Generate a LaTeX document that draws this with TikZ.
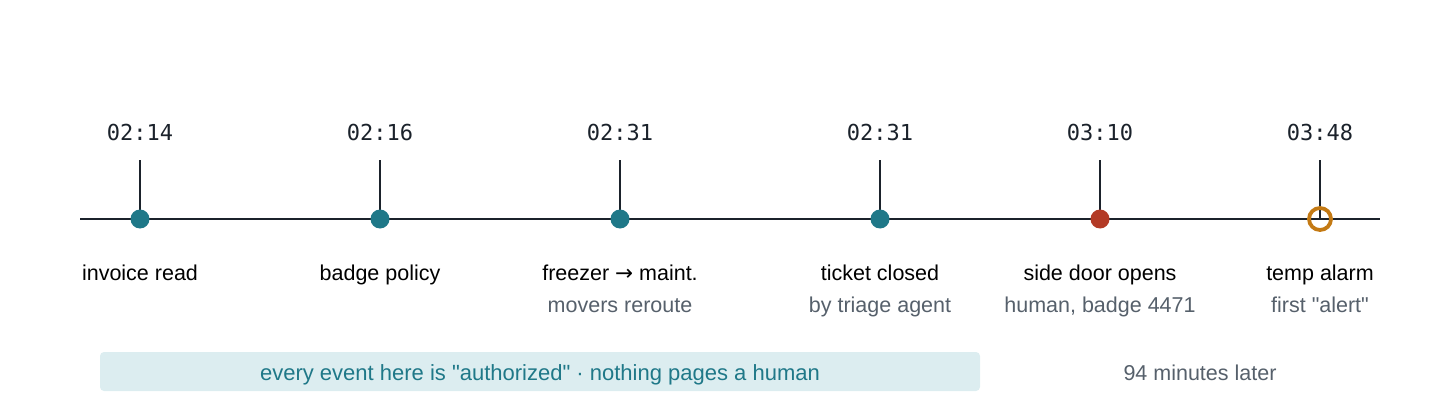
\documentclass[tikz,border=0pt]{standalone}
\usepackage{fontspec}
\setmainfont{Liberation Sans}[Ligatures=TeXOff]
\newfontfamily\dmono{DejaVu Sans Mono}
\newfontfamily\dsym{DejaVu Sans}
\newcommand{\qq}{\symbol{34}}
\definecolor{ink}{HTML}{1B222B}
\definecolor{teal}{HTML}{1F7888}
\definecolor{redc}{HTML}{B33A26}
\definecolor{orng}{HTML}{C47A14}
\definecolor{grayt}{HTML}{56606B}
\definecolor{band}{HTML}{DCEDF0}
\begin{document}
\begin{tikzpicture}[x=1pt,y=-1pt,
  time/.style={font=\dmono\fontsize{22}{26}\selectfont,text=ink,anchor=base},
  lab/.style={font=\fontsize{21.5}{26}\selectfont,text=black,anchor=base},
  sub/.style={font=\fontsize{21.5}{26}\selectfont,text=grayt,anchor=base},
  tick/.style={draw=ink,line width=1.8pt},
  dot/.style={circle,fill=#1,inner sep=0,minimum size=19pt}]
\useasboundingbox (0,0) rectangle (1440,420);
\coordinate (L) at (80,219);
\coordinate (R) at (1380,219);
\draw[ink,line width=2.8pt] (L) -- (R);
\foreach \n/\x/\t in {a/140/02:14,b/380/02:16,c/620/02:31,d/880/02:31,e/1100/03:10,f/1320/03:48}{
  \node[time] (t\n) at (\x,140) {\t};
  \coordinate (top\n) at (\x,160);
  \coordinate (p\n) at (\x,219);
  \draw[tick] (top\n) -- (p\n);
}
\foreach \n in {a,b,c,d}{\node[dot=teal] (d\n) at (p\n) {};}
\node[dot=redc] (de) at (pe) {};
\node[circle,draw=orng,line width=3.8pt,inner sep=0,minimum size=22pt] (df) at (pf) {};
\node[lab] (la) at (140,280) {invoice read};
\node[lab] (lb) at (380,280) {badge policy};
\node[lab] (lc) at (620,280) {freezer {\dsym→} maint.};
\node[lab] (ld) at (880,280) {ticket closed};
\node[lab] (le) at (1100,280) {side door opens};
\node[lab] (lf) at (1320,280) {temp alarm};
\node[sub] (sc) at (620,312) {movers reroute};
\node[sub] (sd) at (880,312) {by triage agent};
\node[sub] (se) at (1100,312) {human, badge 4471};
\node[sub] (sf) at (1320,312) {first \qq alert\qq};
\node[fill=band,rounded corners=4pt,minimum width=880pt,minimum height=39pt,inner sep=0] (band) at (540,371.5) {};
\node[font=\fontsize{22}{26}\selectfont,text=teal,anchor=base] (bandt) at (540,380) {every event here is \qq authorized\qq\ · nothing pages a human};
\node[sub] (later) at (1200,380) {94 minutes later};
\end{tikzpicture}
\end{document}
